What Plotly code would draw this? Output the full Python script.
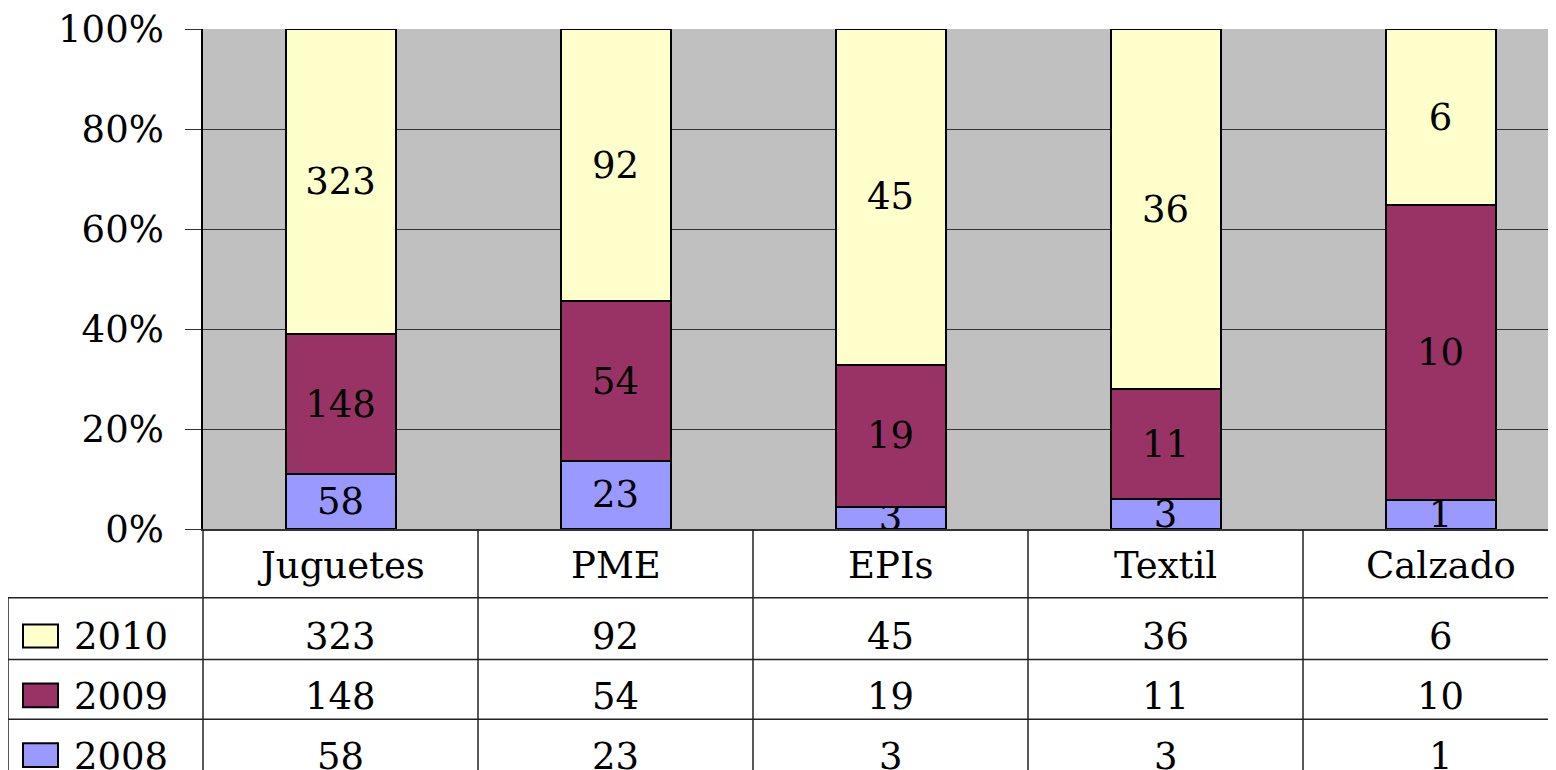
import plotly.graph_objects as go

categories = ["Juguetes", "PME", "EPIs", "Textil", "Calzado"]
series_names = ["2008", "2009", "2010"]
v2008 = [58, 23, 3, 3, 1]
v2009 = [148, 54, 19, 11, 10]
v2010 = [323, 92, 45, 36, 6]
colors = {"2008": "#9999FF", "2009": "#993366", "2010": "#FFFFCC"}
y_ticks = [0, 20, 40, 60, 80, 100]
y_ticktext = ["0%", "20%", "40%", "60%", "80%", "100%"]

FONT = "DejaVu Serif"
FS = 37

# page body has an 8px margin; work in screen pixels and subtract it
OFF = 8
W, H = 1556 - OFF, 770 - OFF
ML, MR, MT, MB = 203 - OFF, 0, 27 - OFF, 770 - 529
XMIN, XMAX = -0.5, 4.42

def px_y(y):
    # screen y -> paper y
    return (H - MB - (y - OFF)) / (H - MT - MB)

def px_x(x):
    return (x - OFF - ML) / (W - ML - MR)

def dx_paper(xd):
    return (xd - XMIN) / (XMAX - XMIN)

data = {"2008": v2008, "2009": v2009, "2010": v2010}

fig = go.Figure()
for name in series_names:
    fig.add_trace(go.Bar(
        x=categories, y=data[name], name=name,
        marker=dict(color=colors[name], line=dict(color="black", width=2)),
        text=[str(v) for v in data[name]],
        textposition="inside", insidetextanchor="middle",
        textangle=0, constraintext="none",
        insidetextfont=dict(family=FONT, size=FS, color="black"),
        width=0.4, hoverinfo="skip",
    ))

fig.update_layout(
    barmode="stack", barnorm="percent",
    width=W, height=H,
    margin=dict(l=ML, r=MR, t=MT, b=MB, pad=0),
    paper_bgcolor="white", plot_bgcolor="#C0C0C0",
    showlegend=False,
    font=dict(family=FONT, size=FS, color="black"),
    xaxis=dict(range=[XMIN, XMAX], showticklabels=False, ticks="",
               showgrid=False, showline=True, linecolor="#333333", linewidth=1.5,
               zeroline=False, fixedrange=True),
    yaxis=dict(range=[0, 100], tickvals=y_ticks, ticktext=y_ticktext,
               ticks="outside", ticklen=16, tickcolor="#333333", tickwidth=1,
               showgrid=True, gridcolor="#333333", gridwidth=1,
               showline=True, linecolor="black", linewidth=1.5,
               zeroline=False, ticklabelstandoff=14, ticklabeloverflow="allow",
               tickfont=dict(family=FONT, size=FS, color="black")),
)

shapes = []
line = dict(color="#222222", width=1.5)
for i in range(len(categories)):
    xb = dx_paper(i - 0.5)
    shapes.append(dict(type="line", xref="paper", yref="paper",
                       x0=xb, x1=xb, y0=px_y(529), y1=px_y(780), line=line))
shapes.append(dict(type="line", xref="paper", yref="paper",
                   x0=px_x(8), x1=px_x(8), y0=px_y(598), y1=px_y(780), line=line))
for yy in [598, 660, 720]:
    shapes.append(dict(type="line", xref="paper", yref="paper",
                       x0=px_x(8), x1=1.0, y0=px_y(yy), y1=px_y(yy), line=line))

annotations = []
for c in categories:
    annotations.append(dict(x=c, xref="x", y=px_y(566), yref="paper",
                            text=c, showarrow=False, xanchor="center", yanchor="middle",
                            font=dict(family=FONT, size=FS, color="black")))

row_y = {"2010": 637, "2009": 697, "2008": 757}
key_y = {"2010": (625, 648), "2009": (684, 708), "2008": (744, 768)}
for name in ["2010", "2009", "2008"]:
    for c, v in zip(categories, data[name]):
        annotations.append(dict(x=c, xref="x", y=px_y(row_y[name]), yref="paper",
                                text=str(v), showarrow=False, xanchor="center", yanchor="middle",
                                font=dict(family=FONT, size=FS, color="black")))
    annotations.append(dict(x=px_x(72), xref="paper", y=px_y(row_y[name]), yref="paper",
                            text=name, showarrow=False, xanchor="left", yanchor="middle",
                            font=dict(family=FONT, size=FS, color="black")))
    y0, y1 = key_y[name]
    shapes.append(dict(type="rect", xref="paper", yref="paper",
                       x0=px_x(23), x1=px_x(58), y0=px_y(y1), y1=px_y(y0),
                       fillcolor=colors[name], line=dict(color="black", width=2)))

fig.update_layout(shapes=shapes, annotations=annotations)
fig.write_html("out.html")
